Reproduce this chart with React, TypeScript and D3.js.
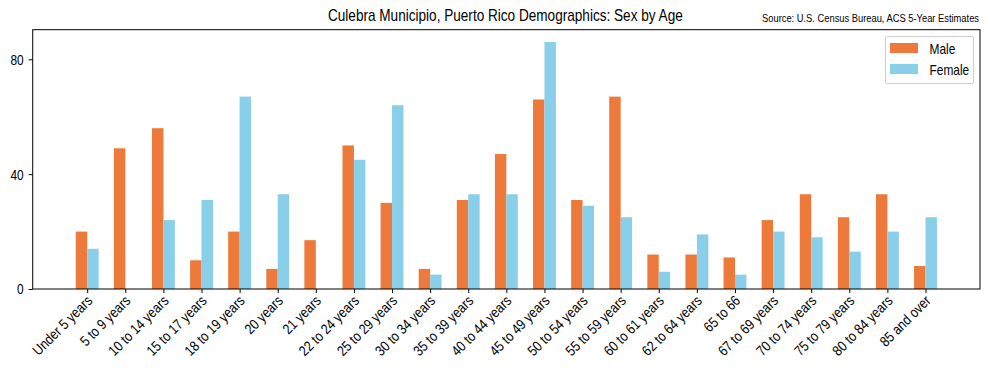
"use client";

import { useEffect, useRef } from "react";
import * as d3 from "d3";

const categories = [
  "Under 5 years",
  "5 to 9 years",
  "10 to 14 years",
  "15 to 17 years",
  "18 to 19 years",
  "20 years",
  "21 years",
  "22 to 24 years",
  "25 to 29 years",
  "30 to 34 years",
  "35 to 39 years",
  "40 to 44 years",
  "45 to 49 years",
  "50 to 54 years",
  "55 to 59 years",
  "60 to 61 years",
  "62 to 64 years",
  "65 to 66",
  "67 to 69 years",
  "70 to 74 years",
  "75 to 79 years",
  "80 to 84 years",
  "85 and over",
];

const male = [20, 49, 56, 10, 20, 7, 17, 50, 30, 7, 31, 47, 66, 31, 67, 12, 12, 11, 24, 33, 25, 33, 8];
const female = [14, 0, 24, 31, 67, 33, 0, 45, 64, 5, 33, 33, 86, 29, 25, 6, 19, 5, 20, 18, 13, 20, 25];

const yTicks = [0, 40, 80];

const title = "Culebra Municipio, Puerto Rico Demographics: Sex by Age";
const source = "Source: U.S. Census Bureau, ACS 5-Year Estimates";

const MALE_COLOR = "#ed7a3a";
const FEMALE_COLOR = "#89cfea";
const FONT = "'Liberation Sans', Arial, sans-serif";
// the original uses a narrow sans; squeeze Liberation Sans to match
const SQ = 0.85;

export default function App() {
  const ref = useRef<HTMLDivElement | null>(null);

  useEffect(() => {
    if (!ref.current) return;
    d3.select(ref.current).selectAll("svg").remove();

    const W = 990;
    const H = 370;
    const left = 32.7;
    const right = 980;
    const top = 29.7;
    const bottom = 289;
    const barW = 0.3;

    const svg = d3
      .select(ref.current)
      .append("svg")
      .attr("width", W)
      .attr("height", H)
      .style("position", "absolute")
      .style("left", 0)
      .style("top", 0)
      .style("font-family", FONT);

    // matplotlib-ish 5% margins around the bars
    const n = categories.length;
    const x0 = -barW, x1 = n - 1 + barW;
    const pad = (x1 - x0) * 0.05;
    const x = d3.scaleLinear([x0 - pad, x1 + pad], [left, right]);
    const yMax = d3.max([...male, ...female]) as number;
    const y = d3.scaleLinear([0, yMax * 1.05], [bottom, top]);

    const g = svg.append("g");

    g.append("g")
      .selectAll("rect")
      .data(male)
      .join("rect")
      .attr("x", (d, i) => x(i - barW))
      .attr("y", (d) => y(d))
      .attr("width", x(barW) - x(0))
      .attr("height", (d) => y(0) - y(d))
      .attr("fill", MALE_COLOR);

    g.append("g")
      .selectAll("rect")
      .data(female)
      .join("rect")
      .attr("x", (d, i) => x(i))
      .attr("y", (d) => y(d))
      .attr("width", x(barW) - x(0))
      .attr("height", (d) => y(0) - y(d))
      .attr("fill", FEMALE_COLOR);

    // frame
    svg
      .append("rect")
      .attr("x", left)
      .attr("y", top)
      .attr("width", right - left)
      .attr("height", bottom - top)
      .attr("fill", "none")
      .attr("stroke", "#000")
      .attr("stroke-width", 1);

    const xAxis = svg
      .append("g")
      .attr("transform", `translate(0,${bottom})`)
      .call(
        d3
          .axisBottom(x)
          .tickValues(d3.range(n))
          .tickFormat((i) => categories[i as number])
          .tickSize(4)
          .tickSizeOuter(0)
      );
    xAxis.select(".domain").remove();
    xAxis
      .selectAll("text")
      .attr("font-family", FONT)
      .attr("font-size", 14.5)
      .attr("fill", "#000")
      .attr("text-anchor", "end")
      .attr("dy", "0.35em")
      .attr("transform", `translate(2,9) rotate(-45) scale(${SQ},1)`)
      .attr("y", 0)
      .attr("x", 0);

    const yAxis = svg
      .append("g")
      .attr("transform", `translate(${left},0)`)
      .call(d3.axisLeft(y).tickValues(yTicks).tickSize(4).tickFormat(() => ""));
    yAxis.select(".domain").remove();
    yAxis
      .selectAll(".tick")
      .append("text")
      .attr("font-family", FONT)
      .attr("font-size", 14)
      .attr("fill", "#000")
      .attr("text-anchor", "end")
      .attr("dy", "0.35em")
      .attr("transform", `translate(-9,0) scale(${SQ},1)`)
      .text((d) => String(d));

    svg
      .append("text")
      .attr("transform", `translate(${(left + right) / 2 - 1},21) scale(${SQ},1)`)
      .attr("text-anchor", "middle")
      .attr("font-size", 16)
      .text(title);

    svg
      .append("text")
      .attr("transform", `translate(${right - 1},22) scale(${SQ},1)`)
      .attr("text-anchor", "end")
      .attr("font-size", 11)
      .text(source);

    // legend
    const lg = svg.append("g").attr("transform", "translate(885.5,36.5)");
    lg.append("rect")
      .attr("width", 88)
      .attr("height", 47)
      .attr("rx", 2)
      .attr("fill", "#fff")
      .attr("fill-opacity", 0.8)
      .attr("stroke", "#ccc");
    [
      { label: "Male", color: MALE_COLOR },
      { label: "Female", color: FEMALE_COLOR },
    ].forEach((s, i) => {
      lg.append("rect")
        .attr("x", 4.5)
        .attr("y", 6.5 + i * 21)
        .attr("width", 28)
        .attr("height", 10)
        .attr("fill", s.color);
      lg.append("text")
        .attr("transform", `translate(44,${17 + i * 21}) scale(${SQ},1)`)
        .attr("font-size", 14)
        .text(s.label);
    });
    // eslint-disable-next-line react-hooks/exhaustive-deps
  }, []);

  return <div ref={ref}></div>;
}
